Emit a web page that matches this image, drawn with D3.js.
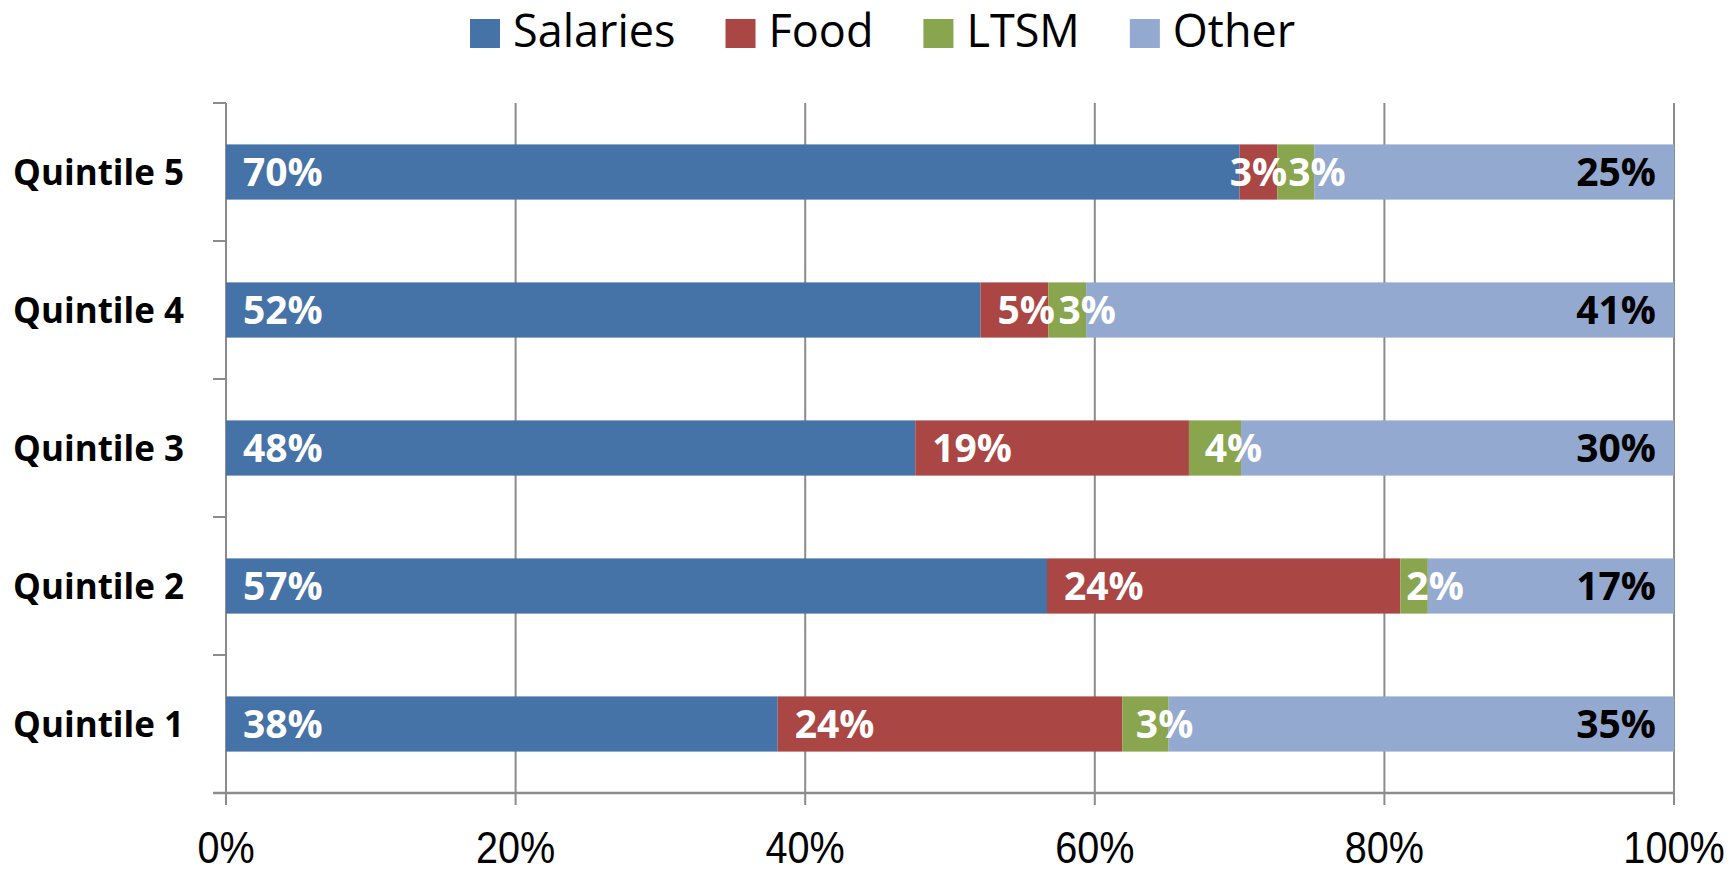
<html>
<head>
<style>
  body { margin: 0; background: #fff; }
  svg { display: block; }
</style>
</head>
<body>
<script src="https://d3js.org/d3.v7.min.js"></script>
<script>

// data
var quintiles = ['Quintile 5', 'Quintile 4', 'Quintile 3', 'Quintile 2', 'Quintile 1'];
var seriesNames = ['Salaries', 'Food', 'LTSM', 'Other'];
var salaries = [0.700, 0.521, 0.476, 0.567, 0.381];
var food     = [0.026, 0.047, 0.189, 0.244, 0.238];
var ltsm     = [0.0255, 0.026, 0.036, 0.019, 0.032];
var other    = [0.2485, 0.406, 0.299, 0.170, 0.349];
var xTicks   = [0, 0.2, 0.4, 0.6, 0.8, 1];

var colors = ['#4572a7', '#aa4643', '#89a54e', '#94a9d0'],
    labelColors = ['#fff', '#fff', '#fff', '#000'],
    gridColor = '#8c8c8c';

var width = 1731,
    height = 873,
    margin = {top: 103, right: 57, bottom: 80, left: 226};

var svg = d3.select('body').append('svg')
    .attr('width', width)
    .attr('height', height);

var x = d3.scaleLinear()
    .domain([0, 1])
    .range([margin.left, width - margin.right]);

var y = d3.scaleBand()
    .domain(quintiles)
    .range([margin.top, height - margin.bottom])
    .paddingInner(0.6)
    .paddingOuter(0.3);

// build rows for the stack
var rows = quintiles.map(function(q, i) {
  return {quintile: q, Salaries: salaries[i], Food: food[i], LTSM: ltsm[i], Other: other[i]};
});
var stacked = d3.stack().keys(seriesNames)(rows);

// vertical gridlines (with little ticks under the axis)
svg.append('g')
  .selectAll('line')
  .data(xTicks)
  .join('line')
    .attr('x1', d => x(d)).attr('x2', d => x(d))
    .attr('y1', margin.top).attr('y2', height - margin.bottom + 12)
    .attr('stroke', gridColor)
    .attr('stroke-width', 2);

// category ticks on the left
var plotH = height - margin.top - margin.bottom;
svg.append('g')
  .selectAll('line')
  .data(d3.range(quintiles.length + 1))
  .join('line')
    .attr('x1', margin.left - 13).attr('x2', margin.left)
    .attr('y1', d => margin.top + d * plotH / quintiles.length)
    .attr('y2', d => margin.top + d * plotH / quintiles.length)
    .attr('stroke', gridColor)
    .attr('stroke-width', 2);

// bottom axis line
svg.append('line')
    .attr('x1', margin.left - 13).attr('x2', x(1))
    .attr('y1', height - margin.bottom).attr('y2', height - margin.bottom)
    .attr('stroke', gridColor)
    .attr('stroke-width', 2.5);

// bars
var layers = svg.append('g')
  .selectAll('g')
  .data(stacked)
  .join('g')
    .attr('fill', (d, i) => colors[i]);

layers.selectAll('rect')
  .data(d => d)
  .join('rect')
    .attr('x', d => x(d[0]))
    .attr('width', d => x(d[1]) - x(d[0]))
    .attr('y', d => y(d.data.quintile))
    .attr('height', y.bandwidth());

// value labels, placed row by row so narrow segments don't collide
var fmt = d3.format('.0%');
var labelG = svg.append('g');
rows.forEach(function(row, ri) {
  var prevEnd = -Infinity;
  stacked.forEach(function(layer, si) {
    var d = layer[ri],
        x0 = x(d[0]), x1 = x(d[1]), w = x1 - x0;
    var t = labelG.append('text')
        .attr('y', y(row.quintile) + y.bandwidth() / 2 + 14)
        .attr('fill', labelColors[si])
        .style('font', 'bold 39px "Open Sans", sans-serif')
        .text(fmt(d[1] - d[0]));
    var len = t.node().getComputedTextLength();
    var lx;
    if (si === 3) {
      lx = x1 - 18 - len;
    } else {
      var next = stacked[si + 1][ri];
      var nextW = x(next[1]) - x(next[0]);
      if (w < 40 && si < 2 && nextW < 40) lx = (x0 + x1) / 2 - len / 2;
      else lx = x0 + Math.min(17, Math.max(3, w * 0.4 - 5));
      lx = Math.max(lx, prevEnd + 1);
    }
    t.attr('x', lx);
    prevEnd = lx + len;
  });
});

// category labels
svg.append('g')
  .selectAll('text')
  .data(quintiles)
  .join('text')
    .attr('x', 184)
    .attr('y', d => y(d) + y.bandwidth() / 2 + 13)
    .attr('text-anchor', 'end')
    .style('font', 'bold 35px "Open Sans", sans-serif')
    .text(d => d);

// x tick labels (condensed look)
svg.append('g')
  .selectAll('text')
  .data(xTicks)
  .join('text')
    .attr('transform', d => 'translate(' + x(d) + ',863) scale(0.88,1)')
    .attr('text-anchor', 'middle')
    .style('font', '45px "Liberation Sans", Arial, sans-serif')
    .text(d => d3.format('.0%')(d));

// legend
var legend = svg.append('g');
var lx = 470;
seriesNames.forEach(function(name, i) {
  legend.append('rect')
      .attr('x', lx).attr('y', 19)
      .attr('width', 30).attr('height', 29)
      .attr('fill', colors[i]);
  var t = legend.append('text')
      .attr('x', lx + 43)
      .attr('y', 47)
      .style('font', '45px "Open Sans", sans-serif')
      .text(name);
  lx += 43 + t.node().getComputedTextLength() + 50;
});

</script>
</body>
</html>
